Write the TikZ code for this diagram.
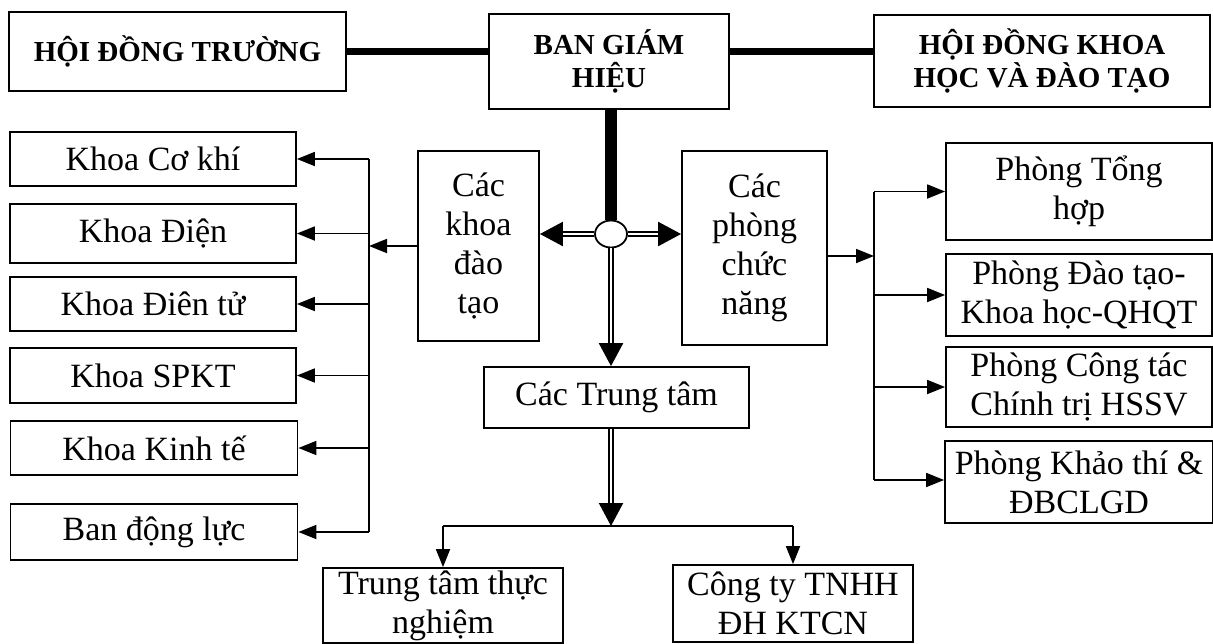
\documentclass[tikz,border=0pt]{standalone}
\usepackage{fontspec}
\setmainfont{Liberation Serif}
\usetikzlibrary{positioning,arrows.meta,shapes.geometric,calc}

\begin{document}
\begin{tikzpicture}[x=1pt, y=-1pt,
    box/.style={draw, line width=1.8pt, align=center, inner sep=0pt,
                font=\fontsize{34}{39}\selectfont},
    headbox/.style={box, font=\bfseries\fontsize{29}{33}\selectfont},
    link/.style={line width=7pt},
    wire/.style={line width=1.8pt},
    arr/.style={wire, -{Triangle[length=18pt,width=14pt]}},
    dblarr/.style={double, line width=2.2pt, double distance=2pt,
                   -{Triangle[length=23pt,width=24pt]}}]
  \useasboundingbox (0,0) rectangle (1213,643);
  \clip (0,0) rectangle (1213,643);

  % Top row
  \node[headbox, minimum width=337pt, minimum height=79pt] (hdt) at (177.5,51.5) {HỘI ĐỒNG TRƯỜNG};
  \node[headbox, minimum width=240pt, minimum height=95pt] (bgh) at (609,61.5) {BAN GIÁM\\HIỆU};
  \node[headbox, minimum width=336pt, minimum height=92pt] (hdkh) at (1042,61) {HỘI ĐỒNG KHOA\\HỌC VÀ ĐÀO TẠO};

  % Middle
  \node[box, minimum width=121pt, minimum height=190pt] (khoa) at (478.5,246) {Các\\khoa\\đào\\tạo};
  \node[box, minimum width=145pt, minimum height=194pt] (phong) at (754.5,248) {Các\\phòng\\chức\\năng};
  \node[draw, ellipse, line width=1.8pt, fill=white, minimum width=32pt, minimum height=27pt, inner sep=0pt] (hub) at (611,234) {};
  \node[box, minimum width=265pt, minimum height=61pt] (trungtam) at (616.5,397.5) {Các Trung tâm};

  % Left column
  \node[box, minimum width=286pt, minimum height=54pt] (cokhi) at (153,159) {Khoa Cơ khí};
  \node[box, minimum width=286pt, minimum height=59pt] (dien) at (153,233.5) {Khoa Điện};
  \node[box, minimum width=286pt, minimum height=54pt] (dientu) at (153,304) {Khoa Điên tử};
  \node[box, minimum width=286pt, minimum height=55pt] (spkt) at (153,375.5) {Khoa SPKT};
  \node[box, minimum width=287pt, minimum height=54pt] (kinhte) at (154,448) {Khoa Kinh tế};
  \node[box, minimum width=287pt, minimum height=56pt] (dongluc) at (154,532) {Ban động lực};

  % Right column
  \node[box, minimum width=266pt, minimum height=97pt] (tonghop) at (1079,191.5) {Phòng Tổng\\hợp};
  \node[box, minimum width=266pt, minimum height=82pt] (daotao) at (1079,295) {Phòng Đào tạo-\\Khoa học-QHQT};
  \node[box, minimum width=266pt, minimum height=80pt] (congtac) at (1079,387) {Phòng Công tác\\Chính trị HSSV};
  \node[box, minimum width=268pt, minimum height=82pt] (khaothi) at (1079,482) {Phòng Khảo thí \&\\ĐBCLGD};

  % Bottom row
  \node[box, minimum width=240pt, minimum height=75pt] (thucnghiem) at (443,605.5) {Trung tâm thực\\nghiệm};
  \node[box, minimum width=240pt, minimum height=77pt] (congty) at (793,603.5) {Công ty TNHH\\ĐH KTCN};

  \coordinate (lbus) at (369,0);
  \coordinate (rbus) at (874,0);
  \coordinate (split) at (611,526);
  \coordinate (pout) at ([yshift=-8pt]phong.east);
  \coordinate (kin) at ([yshift=2pt]khaothi.west);

  % Thick links
  \draw[link] (hdt.east) -- (bgh.west |- hdt.east);
  \draw[link] (bgh.east |- hdt.east) -- (hdkh.west |- hdt.east);
  \draw[line width=12pt] (hub |- bgh.south) -- (hub.north);

  % Double arrows from the hub
  \draw[dblarr] (hub.west) -- (khoa.east |- hub.west);
  \draw[dblarr] (hub.east) -- (phong.west |- hub.east);
  \draw[dblarr] (hub.south) -- (hub |- trungtam.north);
  \draw[dblarr] (hub |- trungtam.south) -- (split);

  % Left bus
  \draw[arr] (khoa.west) -- (lbus |- khoa.west);
  \draw[wire] (lbus |- cokhi.east) -- (lbus |- dongluc.east);
  \foreach \n in {cokhi,dien,dientu,spkt,kinhte,dongluc}
    \draw[arr] (lbus |- \n.east) -- (\n.east);

  % Right bus
  \draw[arr] (pout) -- (rbus |- pout);
  \draw[wire] (rbus |- tonghop.west) -- (rbus |- kin);
  \foreach \n in {tonghop,daotao,congtac}
    \draw[arr] (rbus |- \n.west) -- (\n.west);
  \draw[arr] (rbus |- kin) -- (kin);

  % Centres
  \draw[wire] (thucnghiem |- split) -- (congty |- split);
  \draw[arr] (thucnghiem |- split) -- (thucnghiem.north);
  \draw[arr] (congty |- split) -- (congty.north);
\end{tikzpicture}
\end{document}
